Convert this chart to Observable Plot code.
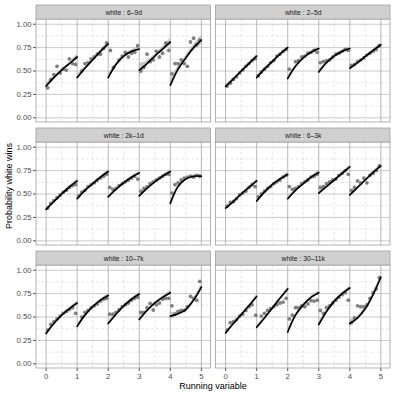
<!DOCTYPE html>
<html><head><meta charset="utf-8">
<script src="https://cdn.jsdelivr.net/npm/d3@7"></script>
<script src="https://cdn.jsdelivr.net/npm/@observablehq/plot@0.6"></script>
<style>
html,body{margin:0;padding:0;background:#fff;}
#wrap{position:relative;width:395px;height:395px;font-family:"Liberation Sans",Arial,sans-serif;}
.ttl{position:absolute;font-size:9px;color:#000;white-space:nowrap;transform:translate(-50%,-50%);}
.ttl.y{transform:translate(-50%,-50%) rotate(-90deg);}
</style></head><body><div id="wrap"></div>
<script>
// Facet labels
const panelLabels = ["white : 6–9d", "white : 2–5d", "white : 2k–1d", "white : 6–3k", "white : 10–7k", "white : 30–11k"];
const xTicks = [0, 1, 2, 3, 4, 5];
const yTicks = [0, 0.25, 0.5, 0.75, 1];

// Fitted curve per segment, read at x = k, k+.25, k+.5, k+.75, k+1
const fit_6_9d   = [0.34,0.43,0.51,0.58,0.65, 0.43,0.53,0.62,0.71,0.79, 0.43,0.57,0.66,0.71,0.735, 0.51,0.58,0.66,0.735,0.81, 0.35,0.52,0.64,0.75,0.83];
const fit_2_5d   = [0.335,0.415,0.50,0.58,0.66, 0.43,0.52,0.60,0.68,0.75, 0.42,0.55,0.64,0.70,0.74, 0.49,0.59,0.66,0.71,0.74, 0.53,0.59,0.655,0.72,0.78];
const fit_2k_1d  = [0.335,0.42,0.50,0.575,0.64, 0.45,0.54,0.61,0.68,0.74, 0.47,0.55,0.62,0.68,0.725, 0.48,0.56,0.63,0.69,0.74, 0.40,0.58,0.66,0.69,0.69];
const fit_6_3k   = [0.35,0.42,0.50,0.57,0.64, 0.425,0.52,0.60,0.66,0.71, 0.45,0.54,0.61,0.68,0.73, 0.51,0.58,0.65,0.72,0.79, 0.49,0.57,0.65,0.73,0.80];
const fit_10_7k  = [0.325,0.43,0.52,0.59,0.65, 0.40,0.52,0.61,0.68,0.73, 0.43,0.53,0.62,0.69,0.745, 0.475,0.57,0.65,0.71,0.76, 0.51,0.535,0.58,0.68,0.82];
const fit_30_11k = [0.33,0.43,0.525,0.62,0.72, 0.39,0.49,0.595,0.70,0.80, 0.34,0.52,0.63,0.71,0.76, 0.42,0.56,0.67,0.75,0.81, 0.43,0.49,0.59,0.74,0.925];

// Standard errors of the fit (ribbon half-width)
const se_6_9d   = [.03,.015,.012,.015,.03, .03,.015,.012,.015,.03, .035,.015,.015,.015,.03, .07,.03,.02,.025,.04, .05,.03,.025,.03,.05];
const se_2_5d   = [.02,.01,.008,.01,.02, .02,.01,.008,.01,.02, .025,.012,.01,.012,.02, .02,.01,.008,.01,.02, .02,.01,.008,.01,.02];
const se_2k_1d  = [.02,.01,.008,.01,.02, .02,.01,.008,.01,.02, .02,.01,.008,.01,.02, .02,.01,.008,.01,.02, .025,.012,.01,.012,.02];
const se_6_3k   = [.02,.01,.008,.01,.02, .02,.01,.008,.01,.02, .02,.01,.008,.01,.02, .02,.01,.008,.01,.02, .025,.012,.01,.012,.025];
const se_10_7k  = [.02,.01,.008,.01,.02, .02,.01,.008,.01,.02, .02,.01,.008,.01,.02, .025,.012,.01,.012,.025, .04,.02,.02,.02,.03];
const se_30_11k = [.02,.01,.008,.01,.02, .02,.01,.008,.01,.02, .025,.012,.01,.012,.02, .025,.012,.01,.012,.02, .04,.02,.02,.02,.03];

// Binned means [x, probability]
const pts_6_9d = [[0.05,0.32],[0.15,0.41],[0.25,0.46],[0.35,0.55],[0.45,0.48],[0.55,0.52],[0.65,0.51],[0.75,0.63],[0.85,0.58],[0.95,0.57],
 [1.15,0.50],[1.25,0.58],[1.35,0.59],[1.45,0.63],[1.55,0.65],[1.65,0.68],[1.75,0.68],[1.85,0.74],[1.95,0.80],
 [2.07,0.72],[2.17,0.54],[2.35,0.62],[2.45,0.66],[2.55,0.70],[2.65,0.65],[2.75,0.69],[2.85,0.70],[2.95,0.77],
 [3.05,0.50],[3.15,0.54],[3.25,0.68],[3.35,0.60],[3.45,0.62],[3.55,0.71],[3.65,0.65],[3.75,0.69],[3.85,0.80],[3.95,0.72],
 [4.05,0.47],[4.15,0.58],[4.25,0.58],[4.35,0.62],[4.45,0.58],[4.55,0.55],[4.65,0.81],[4.75,0.85],[4.85,0.78],[4.95,0.83]];
const pts_2_5d = [[0.05,0.34],[0.15,0.37],[0.25,0.41],[0.35,0.44],[0.45,0.48],[0.55,0.51],[0.65,0.55],[0.75,0.58],[0.85,0.61],[0.95,0.63],
 [1.05,0.45],[1.15,0.49],[1.25,0.52],[1.35,0.55],[1.45,0.59],[1.55,0.61],[1.65,0.66],[1.75,0.68],[1.85,0.71],[1.95,0.73],
 [2.05,0.52],[2.25,0.60],[2.35,0.61],[2.45,0.65],[2.55,0.66],[2.65,0.69],[2.75,0.70],[2.85,0.72],[2.95,0.70],
 [3.05,0.59],[3.15,0.60],[3.25,0.61],[3.35,0.62],[3.45,0.65],[3.55,0.68],[3.65,0.69],[3.75,0.71],[3.85,0.73],[3.95,0.72],
 [4.05,0.56],[4.15,0.57],[4.25,0.60],[4.35,0.62],[4.45,0.64],[4.55,0.67],[4.65,0.69],[4.75,0.71],[4.85,0.73],[4.95,0.77]];
const pts_2k_1d = [[0.05,0.35],[0.15,0.40],[0.25,0.43],[0.35,0.46],[0.45,0.49],[0.55,0.52],[0.65,0.54],[0.75,0.57],[0.85,0.59],[0.95,0.60],
 [1.05,0.48],[1.15,0.52],[1.25,0.54],[1.35,0.58],[1.45,0.60],[1.55,0.62],[1.65,0.65],[1.75,0.67],[1.85,0.69],[1.95,0.71],
 [2.05,0.57],[2.15,0.55],[2.25,0.56],[2.35,0.59],[2.45,0.61],[2.55,0.63],[2.65,0.65],[2.75,0.67],[2.85,0.69],[2.95,0.66],
 [3.05,0.53],[3.15,0.56],[3.25,0.58],[3.35,0.61],[3.45,0.63],[3.55,0.65],[3.65,0.67],[3.75,0.69],[3.85,0.71],[3.95,0.71],
 [4.05,0.51],[4.15,0.60],[4.25,0.62],[4.35,0.65],[4.45,0.67],[4.55,0.68],[4.65,0.69],[4.75,0.68],[4.85,0.70],[4.95,0.69]];
const pts_6_3k = [[0.05,0.37],[0.15,0.41],[0.25,0.42],[0.35,0.45],[0.45,0.49],[0.55,0.51],[0.65,0.53],[0.75,0.57],[0.85,0.60],[0.95,0.58],
 [1.05,0.47],[1.15,0.50],[1.25,0.53],[1.35,0.56],[1.45,0.58],[1.55,0.61],[1.65,0.63],[1.75,0.65],[1.85,0.68],[1.95,0.70],
 [2.05,0.58],[2.15,0.55],[2.25,0.56],[2.35,0.58],[2.45,0.61],[2.55,0.63],[2.65,0.65],[2.75,0.68],[2.85,0.69],[2.95,0.71],
 [3.05,0.57],[3.15,0.58],[3.25,0.61],[3.35,0.63],[3.45,0.65],[3.55,0.66],[3.65,0.70],[3.75,0.72],[3.85,0.75],[3.95,0.71],
 [4.05,0.54],[4.15,0.57],[4.25,0.64],[4.35,0.62],[4.45,0.67],[4.55,0.62],[4.65,0.70],[4.75,0.72],[4.85,0.75],[4.95,0.80]];
const pts_10_7k = [[0.05,0.36],[0.15,0.42],[0.25,0.45],[0.35,0.48],[0.45,0.51],[0.55,0.54],[0.65,0.56],[0.75,0.58],[0.85,0.60],[0.95,0.54],
 [1.15,0.50],[1.25,0.55],[1.35,0.57],[1.45,0.60],[1.55,0.62],[1.65,0.64],[1.75,0.67],[1.85,0.69],[1.95,0.70],
 [2.05,0.53],[2.15,0.53],[2.25,0.55],[2.35,0.58],[2.45,0.61],[2.55,0.63],[2.65,0.65],[2.75,0.68],[2.85,0.70],[2.95,0.71],
 [3.05,0.55],[3.15,0.55],[3.25,0.60],[3.35,0.645],[3.45,0.575],[3.55,0.63],[3.65,0.65],[3.75,0.69],[3.85,0.70],[3.95,0.70],
 [4.05,0.62],[4.15,0.53],[4.25,0.56],[4.35,0.57],[4.45,0.57],[4.55,0.61],[4.65,0.72],[4.75,0.70],[4.85,0.68],[4.95,0.88]];
const pts_30_11k = [[0.05,0.36],[0.15,0.44],[0.25,0.45],[0.35,0.47],[0.45,0.51],[0.55,0.53],[0.65,0.57],[0.75,0.61],[0.85,0.63],[0.97,0.52],
 [1.15,0.51],[1.25,0.54],[1.35,0.57],[1.45,0.59],[1.55,0.61],[1.65,0.63],[1.75,0.65],[1.85,0.66],[1.95,0.70],
 [2.05,0.48],[2.15,0.52],[2.25,0.60],[2.35,0.60],[2.45,0.62],[2.55,0.61],[2.65,0.64],[2.75,0.675],[2.85,0.67],[2.95,0.68],
 [3.05,0.57],[3.15,0.54],[3.25,0.60],[3.35,0.62],[3.45,0.65],[3.55,0.68],[3.65,0.71],[3.75,0.74],[3.85,0.76],[3.95,0.68],
 [4.05,0.44],[4.15,0.49],[4.25,0.62],[4.35,0.61],[4.45,0.61],[4.55,0.63],[4.65,0.70],[4.75,0.76],[4.85,0.80],[4.95,0.92]];

const fits = [fit_6_9d, fit_2_5d, fit_2k_1d, fit_6_3k, fit_10_7k, fit_30_11k];
const ses = [se_6_9d, se_2_5d, se_2k_1d, se_6_3k, se_10_7k, se_30_11k];
const ptss = [pts_6_9d, pts_2_5d, pts_2k_1d, pts_6_3k, pts_10_7k, pts_30_11k];

// layout constants (panel area and strip, in y units)
const YLO = -0.05, YHI = 1.05, YTOP = 1.2;

const panels = panelLabels.map((label, i) => ({label, col: i % 2, row: Math.floor(i / 2)}));
const fitRows = [];
const ptRows = [];
panels.forEach((p, i) => {
  fits[i].forEach((v, k) => {
    const seg = Math.floor(k / 5), j = k % 5;
    fitRows.push({col: p.col, row: p.row, key: i + "-" + seg, x: seg + j * 0.25, y: v, se: ses[i][k]});
  });
  ptss[i].forEach(([x, y]) => ptRows.push({col: p.col, row: p.row, x, y}));
});

const minorY = [0.125, 0.375, 0.625, 0.875];
const minorX = [0.5, 1.5, 2.5, 3.5, 4.5];

const chart = Plot.plot({
  width: 395, height: 395,
  marginLeft: 36, marginRight: 5, marginTop: 5, marginBottom: 27,
  style: {fontFamily: '"Liberation Sans", Arial, sans-serif', fontSize: "7.7px", color: "#4d4d4d", background: "#fff"},
  fx: {domain: [0, 1], paddingInner: 0.0279, paddingOuter: 0, round: false, axis: null},
  fy: {domain: [0, 1, 2], paddingInner: 0.0488, paddingOuter: 0, round: false, axis: null},
  x: {domain: [-0.31, 5.31], ticks: xTicks, tickFormat: d3.format("d"), tickSize: 3, tickPadding: 2, label: null},
  y: {domain: [YLO, YTOP], ticks: yTicks, tickFormat: d3.format(".2f"), tickSize: 3, tickPadding: 2, label: null},
  marks: [
    Plot.rect(panels, {fx: "col", fy: "row", y1: () => YLO, y2: () => YHI, fill: "#fff"}),
    Plot.ruleY(minorY, {stroke: "#d6d6d6", strokeWidth: 0.6, strokeDasharray: "3,2"}),
    Plot.ruleX(minorX, {y1: () => YLO, y2: () => YHI, stroke: "#d6d6d6", strokeWidth: 0.6, strokeDasharray: "3,2"}),
    Plot.ruleY(yTicks, {stroke: "#bdbdbd", strokeWidth: 0.8}),
    Plot.ruleX(xTicks, {y1: () => YLO, y2: () => YHI, stroke: "#a6a6a6", strokeWidth: 0.8}),
    Plot.areaY(fitRows, {fx: "col", fy: "row", x: "x", y1: d => d.y - d.se, y2: d => d.y + d.se, z: "key", fill: "#b5b5b5", fillOpacity: 0.75, curve: "catmull-rom"}),
    Plot.dot(ptRows, {fx: "col", fy: "row", x: "x", y: "y", r: 1.9, fill: "#737373", fillOpacity: 0.9, stroke: "none"}),
    Plot.line(fitRows, {fx: "col", fy: "row", x: "x", y: "y", z: "key", stroke: "#000", strokeWidth: 1.7, curve: "catmull-rom"}),
    Plot.rect(panels, {fx: "col", fy: "row", y1: () => YLO, y2: () => YHI, fill: "none", stroke: "#a0a0a0", strokeWidth: 0.8}),
    Plot.rect(panels, {fx: "col", fy: "row", y1: () => YHI, y2: () => YTOP, fill: "#d0d0d0", stroke: "#a0a0a0", strokeWidth: 0.8}),
    Plot.text(panels, {fx: "col", fy: "row", y: () => (YHI + YTOP) / 2, text: "label", fill: "#1a1a1a", fontSize: 6.8})
  ]
});
const wrap = document.getElementById("wrap");
wrap.appendChild(chart);
const yt = document.createElement("div");
yt.className = "ttl y"; yt.textContent = "Probability white wins";
yt.style.left = "9px"; yt.style.top = "186px";
wrap.appendChild(yt);
const xt = document.createElement("div");
xt.className = "ttl"; xt.textContent = "Running variable";
xt.style.left = "213px"; xt.style.top = "386px";
wrap.appendChild(xt);
</script></body></html>
